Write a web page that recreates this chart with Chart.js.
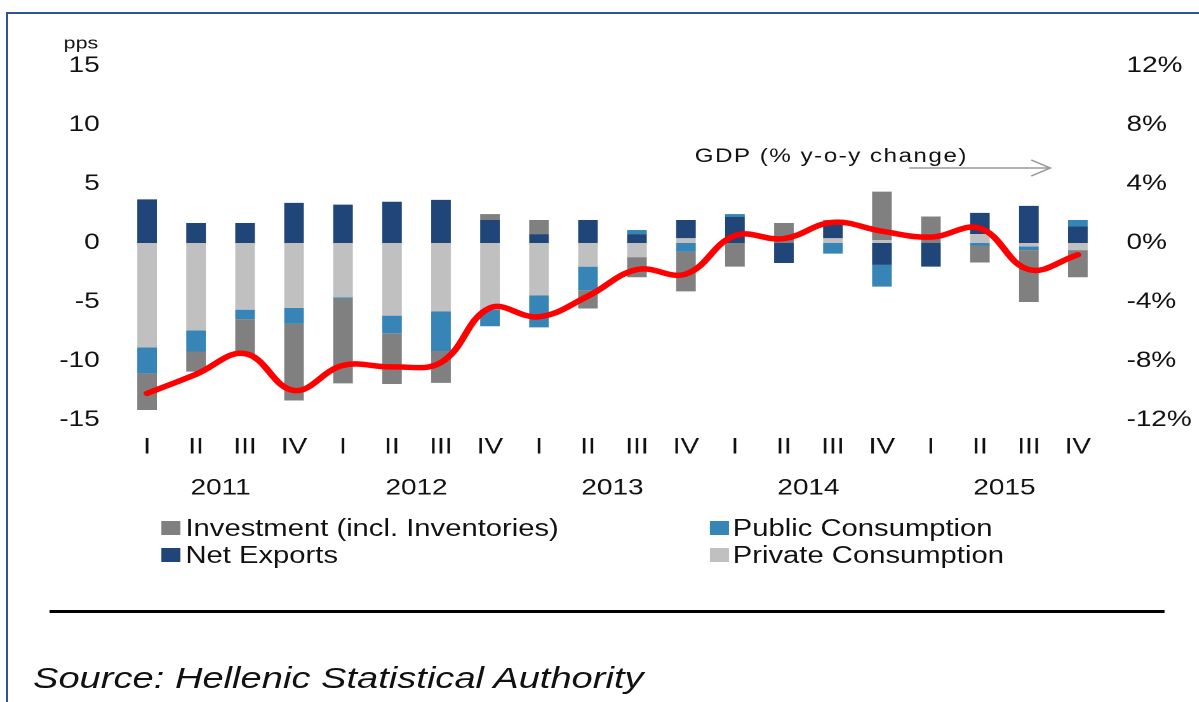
<!DOCTYPE html>
<html>
<head>
<meta charset="utf-8">
<title>Contributions to GDP growth</title>
<script src="https://cdn.jsdelivr.net/npm/chart.js@4"></script>
<style>
  html, body { margin: 0; padding: 0; background: #fff; }
  body { width: 1199px; height: 702px; overflow: hidden; position: relative;
         font-family: "Liberation Sans", Arial, sans-serif; color: #111; }
  #frame { position: absolute; left: 6px; top: 12px; right: 0; bottom: 0;
           border-top: 2px solid #2f5597; border-left: 2px solid #2f5597; }
  /* the original picture is stretched sideways, so the whole page is too */
  #page { position: absolute; left: 0; top: 0; width: 944px; height: 702px;
          transform: scaleX(1.27); transform-origin: 0 0; }
  #chart { position: absolute; left: 0; top: 0; }
  .legend-item { position: absolute; height: 23px; line-height: 23px; font-size: 23px; white-space: nowrap; }
  .legend-item .box { position: absolute; left: 0; top: 4px; width: 15px; height: 14px; }
  .legend-item .txt { position: absolute; top: 0; }
  #rule { position: absolute; left: 39px; top: 610px; width: 878px; height: 3px; background: #000; }
  #source { position: absolute; left: 26px; top: 663px; font-size: 30px; line-height: 30px;
            font-style: italic; white-space: nowrap; }
</style>
</head>
<body>
<div id="frame"></div>
<div id="page">
  <canvas id="chart" width="944" height="520"></canvas>
  <div id="legend"></div>
  <div id="rule"></div>
  <div id="source">Source: Hellenic Statistical Authority</div>
</div>
<script>
const quarters = ["I", "II", "III", "IV", "I", "II", "III", "IV", "I", "II",
                  "III", "IV", "I", "II", "III", "IV", "I", "II", "III", "IV"];
const years = ["2011", "2012", "2013", "2014", "2015"];

// contributions, pps
const privateCons = [-8.85, -7.4, -5.65, -5.5, -4.6, -6.15, -5.8, -5.65, -4.45, -2.0,
                     -1.2, 0.4, 0, 0, 0.4, 0.25, 0, 0.75, -0.3, -0.6];
const netExports = [3.7, 1.7, 1.7, 3.4, 3.25, 3.5, 3.65, 1.95, 0.75, 1.95,
                    0.75, 1.55, 2.2, -1.7, 1.35, -1.85, -2.0, 1.8, 3.15, 1.4];
const publicCons = [-2.2, -1.8, -0.8, -1.35, -0.1, -1.5, -3.35, -1.4, -2.7, -2.0,
                    0.35, -0.75, 0.25, 0, -0.9, -1.85, 0, -0.25, -0.3, 0.55];
const investment = [-3.1, -1.7, -2.95, -6.5, -7.2, -4.3, -2.7, 0.5, 1.2, -1.55,
                    -1.7, -3.35, -2.0, 1.7, 0.2, 4.1, 2.25, -1.4, -4.4, -2.3];
// GDP, % y-o-y
const gdp = [-10.2, -8.9, -7.5, -10.0, -8.3, -8.4, -8.1, -4.4, -5.0, -3.6,
             -1.8, -2.1, 0.5, 0.3, 1.4, 0.8, 0.4, 1.0, -1.8, -0.8];

const FONT = '"Liberation Sans", Arial, sans-serif';
const TXT = '#111';

const colors = {
  investment: '#808080',
  netExports: '#1f4579',
  publicCons: '#3785b6',
  privateCons: '#c0c0c0'
};

// pps label and the GDP note with its arrow
const notes = {
  id: 'notes',
  afterDraw(chart) {
    const ctx = chart.ctx;
    ctx.save();
    ctx.fillStyle = TXT;
    ctx.textBaseline = 'middle';
    ctx.font = '17px ' + FONT;
    ctx.fillText('pps', 50, 44);
    ctx.font = '19px ' + FONT;
    ctx.letterSpacing = '1.2px';
    ctx.fillText('GDP (% y-o-y change)', 547, 157);
    ctx.strokeStyle = '#9a9a9a';
    ctx.lineWidth = 1.5;
    ctx.beginPath();
    ctx.moveTo(716, 168);
    ctx.lineTo(827, 168);
    ctx.moveTo(812, 160);
    ctx.lineTo(827, 168);
    ctx.lineTo(812, 176);
    ctx.stroke();
    ctx.restore();
  }
};

const bar = (label, data, color) => ({
  type: 'bar', label, data, backgroundColor: color, borderWidth: 0,
  yAxisID: 'y', order: 1, barPercentage: 0.4, categoryPercentage: 1
});

const chart = new Chart(document.getElementById('chart'), {
  data: {
    labels: quarters,
    datasets: [
      {
        type: 'line', label: 'GDP (% y-o-y change)', data: gdp, yAxisID: 'y1', order: 0,
        borderColor: '#ff0000', borderWidth: 5.5, tension: 0.4, pointRadius: 0,
        borderCapStyle: 'round', fill: false
      },
      bar('Private Consumption', privateCons, colors.privateCons),
      bar('Net Exports', netExports, colors.netExports),
      bar('Public Consumption', publicCons, colors.publicCons),
      bar('Investment (incl. Inventories)', investment, colors.investment)
    ]
  },
  options: {
    responsive: false,
    devicePixelRatio: 2,
    animation: false,
    layout: { padding: { top: 66, bottom: 10, left: 0, right: 0 } },
    plugins: { legend: { display: false }, tooltip: { enabled: false } },
    scales: {
      x: {
        stacked: true, weight: 0,
        grid: { display: false, drawTicks: false }, border: { display: false },
        ticks: { padding: 14, color: TXT, font: { family: FONT, size: 22 }, maxRotation: 0, autoSkip: false },
        afterFit: s => { s.height = 45; }
      },
      x2: {
        type: 'category', labels: years, position: 'bottom', offset: true, weight: 1,
        grid: { display: false, drawTicks: false }, border: { display: false },
        ticks: { padding: 10, color: TXT, font: { family: FONT, size: 22 }, maxRotation: 0 },
        afterFit: s => { s.height = 45; }
      },
      y: {
        stacked: true, position: 'left', min: -15, max: 15,
        grid: { display: false, drawTicks: false }, border: { display: false },
        ticks: { stepSize: 5, padding: 18, color: TXT, font: { family: FONT, size: 22 } },
        afterFit: s => { s.width = 96.5; }
      },
      y1: {
        position: 'right', min: -12, max: 12,
        grid: { display: false, drawTicks: false }, border: { display: false },
        ticks: { stepSize: 4, padding: 19, color: TXT, font: { family: FONT, size: 22 },
                 callback: v => v + '%' },
        afterFit: s => { s.width = 76; }
      }
    }
  },
  plugins: [notes]
});

// legend in two columns, as in the original
const legendCols = [
  { left: 127, textLeft: 19, items: ['Investment (incl. Inventories)', 'Net Exports'] },
  { left: 559, textLeft: 18, items: ['Public Consumption', 'Private Consumption'] }
];
const legendTops = [517, 544];
const legend = document.getElementById('legend');
legendCols.forEach(col => {
  col.items.forEach((name, i) => {
    const ds = chart.data.datasets.find(d => d.label === name);
    const item = document.createElement('div');
    item.className = 'legend-item';
    item.style.left = col.left + 'px';
    item.style.top = legendTops[i] + 'px';
    item.innerHTML = '<span class="box" style="background:' + ds.backgroundColor + '"></span>' +
                     '<span class="txt" style="left:' + col.textLeft + 'px">' + name + '</span>';
    legend.appendChild(item);
  });
});
</script>
</body>
</html>
